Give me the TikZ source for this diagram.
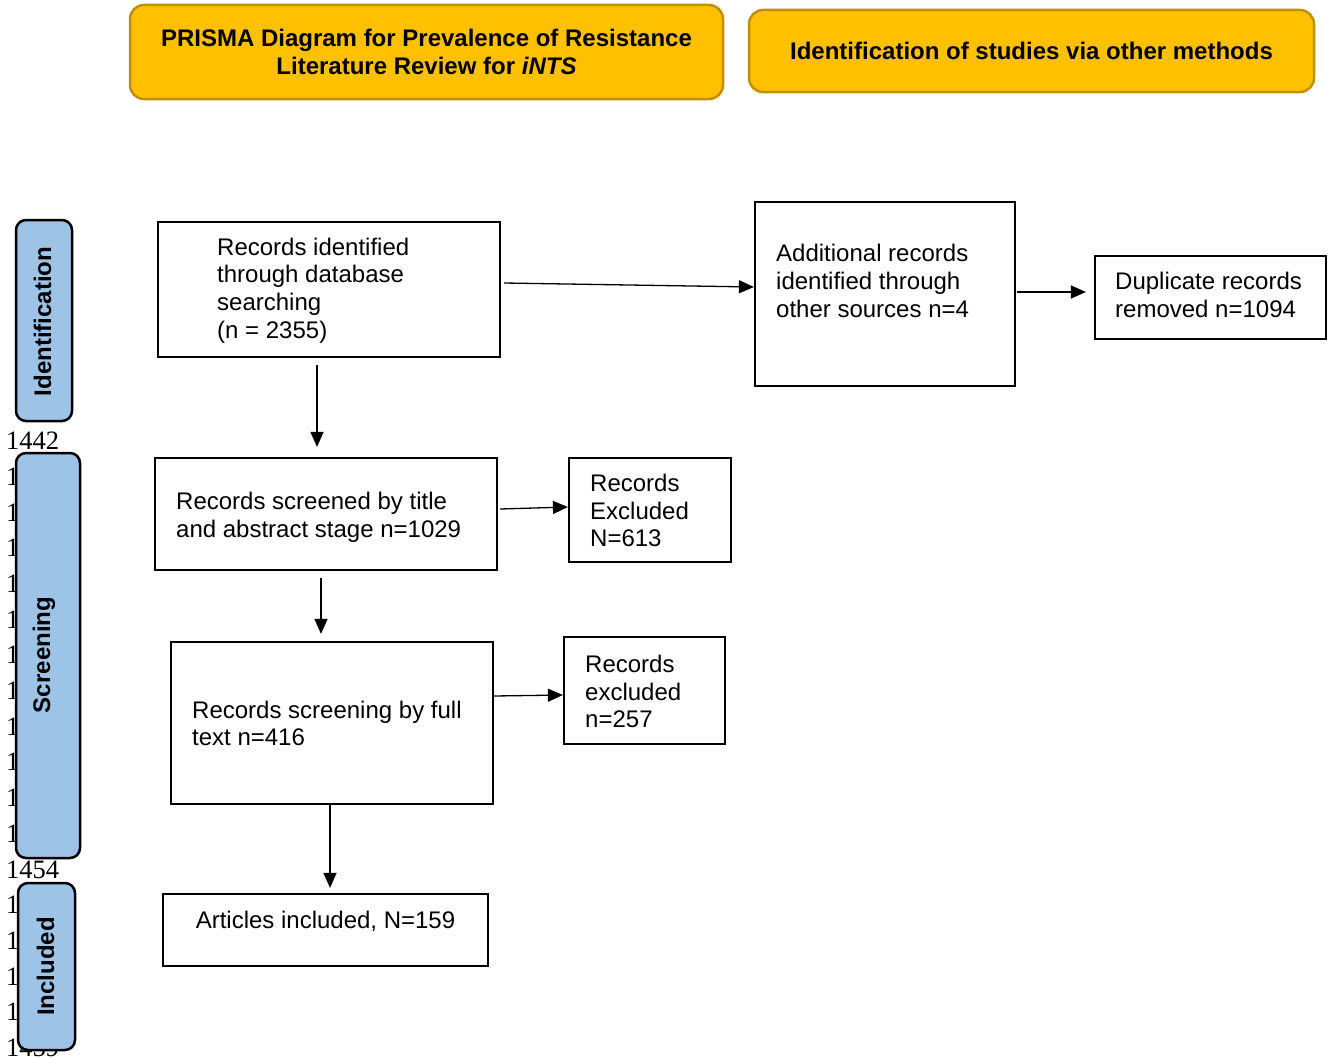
\documentclass[tikz,border=0pt]{standalone}
\usepackage{fontspec}
\setmainfont{Liberation Sans}
\newfontfamily\numfont{Liberation Serif}
\usetikzlibrary{arrows.meta}

\definecolor{hdrfill}{HTML}{FFC000}
\definecolor{hdrline}{HTML}{BF9000}
\definecolor{phasefill}{HTML}{9DC3E6}

\tikzset{
  hdr/.style={draw=hdrline, fill=hdrfill, line width=2.5pt, rounded corners=14pt,
    font=\fontsize{24}{28}\selectfont\bfseries, align=center, inner sep=0pt},
  phase/.style={draw=black, fill=phasefill, line width=2.5pt, rounded corners=10pt, inner sep=0pt},
  phaselbl/.style={rotate=90, anchor=base, inner sep=0pt, font=\fontsize{24}{28}\selectfont\bfseries},
  stepbox/.style={draw=black, line width=2.2pt, inner sep=0pt},
  txt/.style={font=\fontsize{24}{27.6}\selectfont, align=left, inner sep=0pt, anchor=west},
  linenum/.style={font=\numfont\fontsize{26.5}{28}\selectfont, inner sep=0pt, anchor=west},
  arr/.style={-{Triangle[length=15pt,width=13pt]}, line width=1.3pt}
}

\begin{document}
\begin{tikzpicture}[x=1pt,y=-1pt]
\useasboundingbox (0,0) rectangle (1332,1057);

% margin line numbers (mostly covered by the phase bars)
\foreach \n [count=\k from 0] in {1442,1443,1444,1445,1446,1447,1448,1449,1450,1451,1452,1453,1454,1455,1456,1457,1458,1459}
  \node[linenum] (ln\n) at (6, 441+35.7*\k) {\n};

% headers
\node[hdr, minimum width=593pt, minimum height=94pt] (hdrA) at (426.5,52)
  {PRISMA Diagram for Prevalence of Resistance\\Literature Review for \textit{iNTS}};
\node[hdr, minimum width=565pt, minimum height=82pt] (hdrB) at (1031.5,51)
  {Identification of studies via other methods};

% phase bars
\node[phase, minimum width=56pt, minimum height=201pt] (pid) at (44,320.5) {};
\node[phaselbl] (pidl) at (51,321.5) {Identification};
\node[phase, minimum width=64pt, minimum height=405pt] (pscr) at (48,655.5) {};
\node[phaselbl] (pscrl) at (50,655) {Screening};
\node[phase, minimum width=57pt, minimum height=167pt] (pinc) at (46.5,966.5) {};
\node[phaselbl] (pincl) at (54,966.5) {Included};

% flow boxes
\node[stepbox, minimum width=342pt, minimum height=135pt] (a) at (329,289.5) {};
\node[txt] (ta) at (217,290.5) {Records identified\\through database\\searching\\(n = 2355)};

\node[stepbox, minimum width=260pt, minimum height=184pt] (b) at (885,294) {};
\node[txt] (tb) at (776,281) {Additional records\\identified through\\other sources n=4};

\node[stepbox, minimum width=231pt, minimum height=83pt] (c) at (1210.5,297.5) {};
\node[txt] (tc) at (1115,295) {Duplicate records\\removed n=1094};

\node[stepbox, minimum width=342pt, minimum height=112pt] (d) at (326,514) {};
\node[txt] (td) at (176,517) {Records screened by title\\and abstract stage n=1029};

\node[stepbox, minimum width=162pt, minimum height=104pt] (e) at (650,510) {};
\node[txt] (te) at (590,510.5) {Records\\Excluded\\N=613};

\node[stepbox, minimum width=322pt, minimum height=162pt] (f) at (332,723) {};
\node[txt] (tf) at (192,723.5) {Records screening by full\\text n=416};

\node[stepbox, minimum width=161pt, minimum height=107pt] (g) at (644.5,690.5) {};
\node[txt] (tg) at (585,691.5) {Records\\excluded\\n=257};

\node[stepbox, minimum width=325pt, minimum height=72pt] (h) at (325.5,930) {};
\node[txt, anchor=center] (th) at (325.5,921) {Articles included, N=159};

% connectors
\draw[arr] ([shift={(3,-6.5)}]a.east) -- ([shift={(0,-7)}]b.west);
\draw[arr] ([shift={(1,-2)}]b.east) -- ([shift={(-8,-5.5)}]c.west);
\draw[arr] ([shift={(-12,7)}]a.south) -- ([shift={(-9,-10)}]d.north);
\draw[arr] ([shift={(2,-5)}]d.east) -- ([shift={(0,-3)}]e.west);
\draw[arr] ([shift={(-5,7)}]d.south) -- ([shift={(-11,-7)}]f.north);
\draw[arr] ([shift={(0,-27)}]f.east) -- ([shift={(0,4.5)}]g.west);
\draw[arr] ([shift={(-2,0)}]f.south) -- ([shift={(4.5,-5)}]h.north);
\end{tikzpicture}
\end{document}
